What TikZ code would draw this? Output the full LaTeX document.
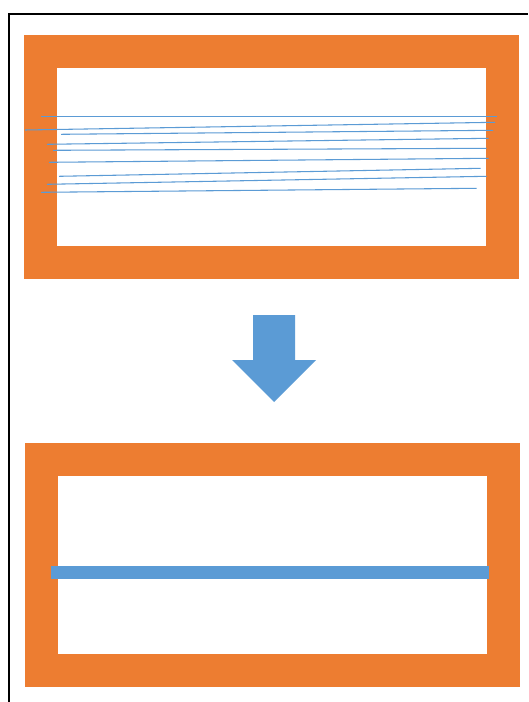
\documentclass[tikz,border=0pt]{standalone}
\usepackage{xcolor}
\usepackage{tikz}
\usetikzlibrary{arrows.meta,calc}
\definecolor{frameorange}{HTML}{ED7D31}
\definecolor{wireblue}{HTML}{5B9BD5}
\tikzset{
    every picture/.style={line join=miter},
    outerframe/.style={fill=frameorange,draw=none},
    innerhole/.style={fill=white,draw=none},
    wire/.style={draw=wireblue,line width=0.8pt},
    bundle/.style={fill=wireblue,draw=none},
    downarrow/.style={fill=wireblue,draw=none},
    border/.style={draw=black,line width=1.8pt}
}
\begin{document}
\begin{tikzpicture}[x=0.75pt,y=-0.75pt]
    \useasboundingbox (0,0) rectangle (528,702);
    \draw[border] (9,702)--(9,14)--(528,14);

    % loose wires in the upper frame
    \fill[outerframe] (24,35) rectangle (519,279);
    \fill[innerhole] (57,68) rectangle (486,246);
    \foreach \xa/\ya/\xb/\yb in {41/116.3/497/116.3, 25/130/495/122.3,
        61/134.3/493/130.3, 47/144.3/488.7/138.3, 53/150.3/486.7/148.3,
        49/162.3/488.7/158.3, 59/176.3/480.7/168.3, 47/184.3/486.7/176.3,
        41/192.3/476.7/188.3}
        \draw[wire] (\xa,\ya)--(\xb,\yb);

    \fill[downarrow] (253,315)--(295,315)--(295,360)--(316,360)--(274,402)
        --(232,360)--(253,360)--cycle;

    % bundled wire in the lower frame
    \fill[outerframe] (25,443) rectangle (520,687);
    \fill[innerhole] (58,476) rectangle (487,654);
    \fill[bundle] (51,566) rectangle (489,579);
\end{tikzpicture}
\end{document}
